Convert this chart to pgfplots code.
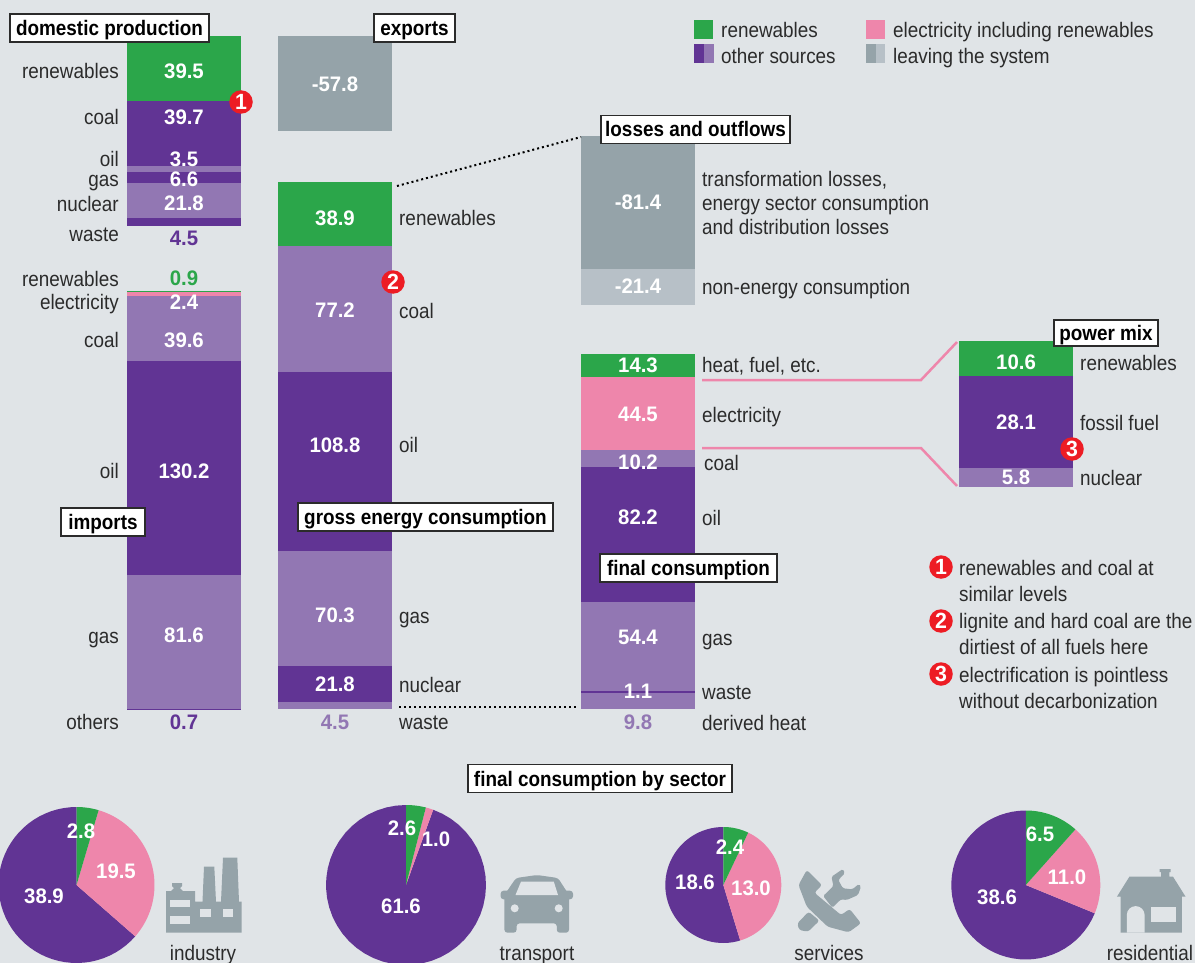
\documentclass[border=0pt]{standalone}
\usepackage{fontspec}
\usepackage{pgfplots}
\pgfplotsset{compat=1.18}
\setmainfont[FakeStretch=0.9]{Liberation Sans}
\newfontfamily\numf[FakeStretch=0.97]{Liberation Sans}
\definecolor{bgc}{HTML}{E0E4E7}
\definecolor{grn}{HTML}{2BA64A}
\definecolor{drk}{HTML}{613494}
\definecolor{lgt}{HTML}{9277B3}
\definecolor{pnk}{HTML}{EE86AB}
\definecolor{gry}{HTML}{95A3A9}
\definecolor{lgy}{HTML}{B7C0C7}
\definecolor{rdd}{HTML}{ED1C24}
\definecolor{txt}{HTML}{2B2B2B}
\pgfplotsset{
  frame/.style={at={(0,0)},anchor=south west,scale only axis,width=1195pt,height=963pt,hide axis,xmin=0,xmax=1195},
  stk/.style={frame,ybar stacked,bar width=114,y dir=reverse,ymin=0,ymax=#1},
}
\newcommand{\seg}[3]{\addplot[fill=#1,draw=none] coordinates {(#2,#3)};}
\newcommand{\gap}[2]{\addplot[fill=none,draw=none] coordinates {(#1,#2)};}
\newcommand{\pieslice}[6]{%
  \pgfmathsetmacro\da{(#6-#5)/48}%
  \xdef\pts{(#2,#3)}%
  \foreach \i in {0,...,48}{%
    \pgfmathsetmacro\aa{#5+\i*\da}%
    \pgfmathsetmacro\px{#2+#4*sin(\aa)}%
    \pgfmathsetmacro\py{#3-#4*cos(\aa)}%
    \xdef\pts{\pts (\px,\py)}%
  }%
  \edef\tmp{\noexpand\addplot[fill=#1,draw=none] coordinates {\pts};}\tmp
}
\newcommand{\piechart}[6]{%
  \pgfmathsetmacro\tot{#4+#5+#6}%
  \pgfmathsetmacro\aA{360*#4/\tot}%
  \pgfmathsetmacro\aB{360*(#4+#5)/\tot}%
  \pieslice{drk}{#1}{#2}{#3}{\aB}{360}%
  \pieslice{pnk}{#1}{#2}{#3}{\aA}{\aB}%
  \pieslice{grn}{#1}{#2}{#3}{0}{\aA}%
}
\newcommand{\sz}{\fontsize{21}{21}\selectfont}
\tikzset{
  L/.style={anchor=mid east,inner sep=0pt,text=txt,font=\sz,yshift=-5pt},
  R/.style={anchor=mid west,inner sep=0pt,text=txt,font=\sz,yshift=-5pt},
  C/.style={anchor=mid,inner sep=0pt,text=txt,font=\sz,yshift=-5pt},
  V/.style={anchor=mid,inner sep=0pt,text=#1,font=\numf\fontsize{21}{21}\selectfont\bfseries,yshift=-5pt},
  V/.default=white,
  T/.style={anchor=center,draw=txt,line width=1.2pt,fill=white,inner sep=0pt,minimum height=#1,text height=17pt,text depth=2pt,text=black,font=\fontsize{21}{21}\selectfont\bfseries},
  T/.default=28pt,
  M/.style={circle,fill=rdd,inner sep=0pt,minimum size=23.5pt,text=white,font=\numf\fontsize{22}{22}\selectfont\bfseries},
  dots/.style={black,line width=2pt,dash pattern=on 2pt off 3pt},
}
\begin{document}
\begin{tikzpicture}[x=1pt,y=1pt]
\path[use as bounding box,clip] (0,0) rectangle (1195pt,963pt);
\fill[bgc] (0,0) rectangle (1195pt,963pt);
% column 1: domestic production and imports
\begin{axis}[stk=587.2]
\gap{184}{22}
\seg{grn}{184}{39.5}
\seg{drk}{184}{39.7}
\seg{lgt}{184}{3.5}
\seg{drk}{184}{6.6}
\seg{lgt}{184}{21.8}
\seg{drk}{184}{4.5}
\gap{184}{39.8}
\seg{grn}{184}{0.9}
\seg{pnk}{184}{2.4}
\seg{lgt}{184}{39.6}
\seg{drk}{184}{130.2}
\seg{lgt}{184}{81.6}
\seg{drk}{184}{0.7}
\end{axis}
% column 2: exports and gross energy consumption
\begin{axis}[stk=587.2]
\gap{335}{22}
\seg{gry}{335}{57.8}
\gap{335}{31}
\seg{grn}{335}{38.9}
\seg{lgt}{335}{77.2}
\seg{drk}{335}{108.8}
\seg{lgt}{335}{70.3}
\seg{drk}{335}{21.8}
\seg{lgt}{335}{4.5}
\end{axis}
% column 3: losses and final consumption
\begin{axis}[stk=587.2]
\gap{638}{82.9}
\seg{gry}{638}{81.4}
\seg{lgy}{638}{21.4}
\gap{638}{30}
\seg{grn}{638}{14.3}
\seg{pnk}{638}{44.5}
\seg{lgt}{638}{10.2}
\seg{drk}{638}{82.2}
\seg{lgt}{638}{54.4}
\seg{drk}{638}{1.1}
\seg{lgt}{638}{9.8}
\end{axis}
% power mix, drawn at twice the scale
\begin{axis}[stk=293.6]
\gap{1016}{104}
\seg{grn}{1016}{10.6}
\seg{drk}{1016}{28.1}
\seg{lgt}{1016}{5.8}
\end{axis}
% overlay in pixel coordinates
\begin{axis}[frame,y dir=reverse,ymin=0,ymax=963,clip=false]
\piechart{76.5}{885}{78}{2.8}{19.5}{38.9}
\piechart{406}{885}{80}{2.6}{1.0}{61.6}
\piechart{723.3}{885}{58}{2.4}{13.0}{18.6}
\piechart{1025.8}{885}{74.5}{6.5}{11.0}{38.6}
% connectors
\draw[dots] (397,186) -- (581,137);
\draw[dots] (399,707) -- (578,707);
\draw[pnk,line width=2.5pt] (702,380) -- (921,380) -- (957,342);
\draw[pnk,line width=2.5pt] (702,448) -- (921,448) -- (957,486);
% legend
\fill[grn] (694,20) rectangle (713,39);
\fill[drk] (694,44) rectangle (704,63);
\fill[lgt] (704,44) rectangle (714,63);
\fill[pnk] (866,20) rectangle (885,39);
\fill[gry] (866,44) rectangle (875.5,63);
\fill[lgy] (875.5,44) rectangle (885,63);
\node[R] at (721,30) {renewables};
\node[R] at (721,56) {other sources};
\node[R] at (893,30) {electricity including renewables};
\node[R] at (893,56) {leaving the system};
% left labels
\node[L] at (119,71) {renewables};
\node[L] at (119,117) {coal};
\node[L] at (119,159) {oil};
\node[L] at (119,179) {gas};
\node[L] at (119,204) {nuclear};
\node[L] at (119,234) {waste};
\node[L] at (119,279) {renewables};
\node[L] at (119,302) {electricity};
\node[L] at (119,340) {coal};
\node[L] at (119,471) {oil};
\node[L] at (119,636) {gas};
\node[L] at (119,722) {others};
% column 1 values
\node[V] at (184,71) {39.5};
\node[V] at (184,117) {39.7};
\node[V] at (184,159) {3.5};
\node[V] at (184,179) {6.6};
\node[V] at (184,203) {21.8};
\node[V=drk] at (184,238) {4.5};
\node[V=grn] at (184,278) {0.9};
\node[V] at (184,302) {2.4};
\node[V] at (184,340) {39.6};
\node[V] at (184,471) {130.2};
\node[V] at (184,635) {81.6};
\node[V=drk] at (184,722) {0.7};
% column 2
\node[V] at (335,84) {-57.8};
\node[V] at (335,218) {38.9};
\node[V] at (335,310) {77.2};
\node[V] at (335,445) {108.8};
\node[V] at (335,615) {70.3};
\node[V] at (335,684) {21.8};
\node[V=lgt] at (335,722) {4.5};
\node[R] at (399,218) {renewables};
\node[R] at (399,311) {coal};
\node[R] at (399,445) {oil};
\node[R] at (399,616) {gas};
\node[R] at (399,685) {nuclear};
\node[R] at (399,722) {waste};
% column 3
\node[V] at (638,202) {-81.4};
\node[V] at (638,286) {-21.4};
\node[V] at (638,365) {14.3};
\node[V] at (638,414) {44.5};
\node[V] at (638,462) {10.2};
\node[V] at (638,517) {82.2};
\node[V] at (638,637) {54.4};
\node[V] at (638,691) {1.1};
\node[V=lgt] at (638,722) {9.8};
\node[R] at (702,179) {transformation losses,};
\node[R] at (702,203) {energy sector consumption};
\node[R] at (702,227) {and distribution losses};
\node[R] at (702,287) {non-energy consumption};
\node[R] at (702,365) {heat, fuel, etc.};
\node[R] at (702,415) {electricity};
\node[R] at (704,463) {coal};
\node[R] at (702,518) {oil};
\node[R] at (702,638) {gas};
\node[R] at (702,692) {waste};
\node[R] at (702,723) {derived heat};
% power mix
\node[V] at (1016,362) {10.6};
\node[V] at (1016,422) {28.1};
\node[V] at (1016,477) {5.8};
\node[R] at (1080,363) {renewables};
\node[R] at (1080,423) {fossil fuel};
\node[R] at (1080,478) {nuclear};
% notes
\node[R] at (959,568) {renewables and coal at};
\node[R] at (959,594) {similar levels};
\node[R] at (959,621) {lignite and hard coal are the};
\node[R] at (959,647) {dirtiest of all fuels here};
\node[R] at (959,675) {electrification is pointless};
\node[R] at (959,701) {without decarbonization};
\node[M] at (941,567) {1};
\node[M] at (941,621) {2};
\node[M] at (941,674) {3};
\node[M] at (241,102) {1};
\node[M] at (393,282) {2};
\node[M] at (1072,449) {3};
% titles
\node[T,minimum width=199pt] at (109.5,28) {domestic production};
\node[T,minimum width=81pt] at (414.5,28) {exports};
\node[T,minimum width=189pt] at (695.5,129.5) {losses and outflows};
\node[T,minimum width=84pt] at (103,522) {imports};
\node[T,minimum width=255pt] at (425.5,517) {gross energy consumption};
\node[T,minimum width=177pt] at (688.5,568) {final consumption};
\node[T=26pt,minimum width=104pt] at (1106,333) {power mix};
\node[T,minimum width=264pt] at (600,778.5) {final consumption by sector};
% pie labels
\node[V] at (81,830.5) {2.8};
\node[V] at (116,870.5) {19.5};
\node[V] at (44,895.5) {38.9};
\node[V] at (402,827.5) {2.6};
\node[V] at (436,839) {1.0};
\node[V] at (401,905.5) {61.6};
\node[V] at (730,847) {2.4};
\node[V] at (751,888) {13.0};
\node[V] at (695,882) {18.6};
\node[V] at (1040,834) {6.5};
\node[V] at (1067,877) {11.0};
\node[V] at (997,897) {38.6};
\node[C] at (203,953) {industry};
\node[C] at (537,953) {transport};
\node[C] at (829,953) {services};
\node[C] at (1150,953) {residential};
% factory icon
\fill[gry] (166,932.7) -- (166,891) -- (171,891) -- (174,888) -- (172,886) -- (172,883) -- (182,883) -- (182,886) -- (180,888) -- (183,891) -- (195,891) -- (195,901.7) -- (202.5,901.7) -- (204,866.7) -- (214.3,866.7) -- (216,901.7) -- (221,901.7) -- (223,857.7) -- (237.3,857.7) -- (239,901.7) -- (241.5,901.7) -- (241.5,932.7) -- cycle;
\fill[bgc] (170.3,900) rectangle (190.2,907.3);
\fill[bgc] (170.3,916) rectangle (190.2,924);
\fill[bgc] (200,909) rectangle (210.5,917.3);
\fill[bgc] (222.7,909) rectangle (233.4,917.3);
% car icon
\fill[gry,rounded corners=3pt] (504.4,895) -- (516,878) -- (537,875) -- (558,878) -- (569,895) -- (569,932.7) -- (556.8,932.7) -- (556.8,923.3) -- (516.6,923.3) -- (516.6,932.7) -- (504.4,932.7) -- cycle;
\fill[gry,rounded corners=3pt] (500.6,890.7) rectangle (573,899.3);
\fill[bgc] (521,881.7) -- (553.8,881.7) -- (558,895) -- (515.5,895) -- cycle;
\fill[bgc] (514.7,908.3) circle[radius=4pt];
\fill[bgc] (558.7,908.3) circle[radius=4pt];
% services icon
\fill[gry,rounded corners=2.5pt] (798.5,885) -- (806.8,870) -- (822,885) -- (814.4,892.7) -- (841,915) -- (849.7,909) -- (861,923.3) -- (848.6,932.3) -- (827.7,926.7) -- (806.8,906.7) -- cycle;
\fill[gry,rounded corners=1.5pt] (823.2,896) -- (833.4,886) -- (831.5,876.7) -- (842.9,869) -- (844.8,873.3) -- (838.3,880) -- (842.9,888.3) -- (852.4,889.3) -- (858.8,884) -- (861,886.7) -- (858,895) -- (846.7,900) -- (841,899.3) -- (832.3,907.7) -- cycle;
\fill[gry,rounded corners=2.5pt] (808.7,911.7) -- (819.4,920.7) -- (808,931.7) -- (799.2,930) -- (797.3,923.3) -- cycle;
% house icon
\fill[gry] (1161,876.7) -- (1161,872) -- (1159.5,872) -- (1159.5,869) -- (1170.5,869) -- (1170.5,872) -- (1169.3,872) -- (1169.3,876.7) -- (1173,876.7) -- (1185.6,896.7) -- (1181.8,896.7) -- (1181.8,932.7) -- (1120.7,932.7) -- (1120.7,896.7) -- (1116.9,896.7) -- (1129.4,876.7) -- cycle;
\fill[bgc] (1126.8,932.7) -- (1126.8,915) arc[start angle=180,end angle=0,radius=8.9pt] -- (1144.6,932.7) -- cycle;
\fill[bgc] (1151,906.7) rectangle (1176,921.7);
\end{axis}
\end{tikzpicture}
\end{document}
